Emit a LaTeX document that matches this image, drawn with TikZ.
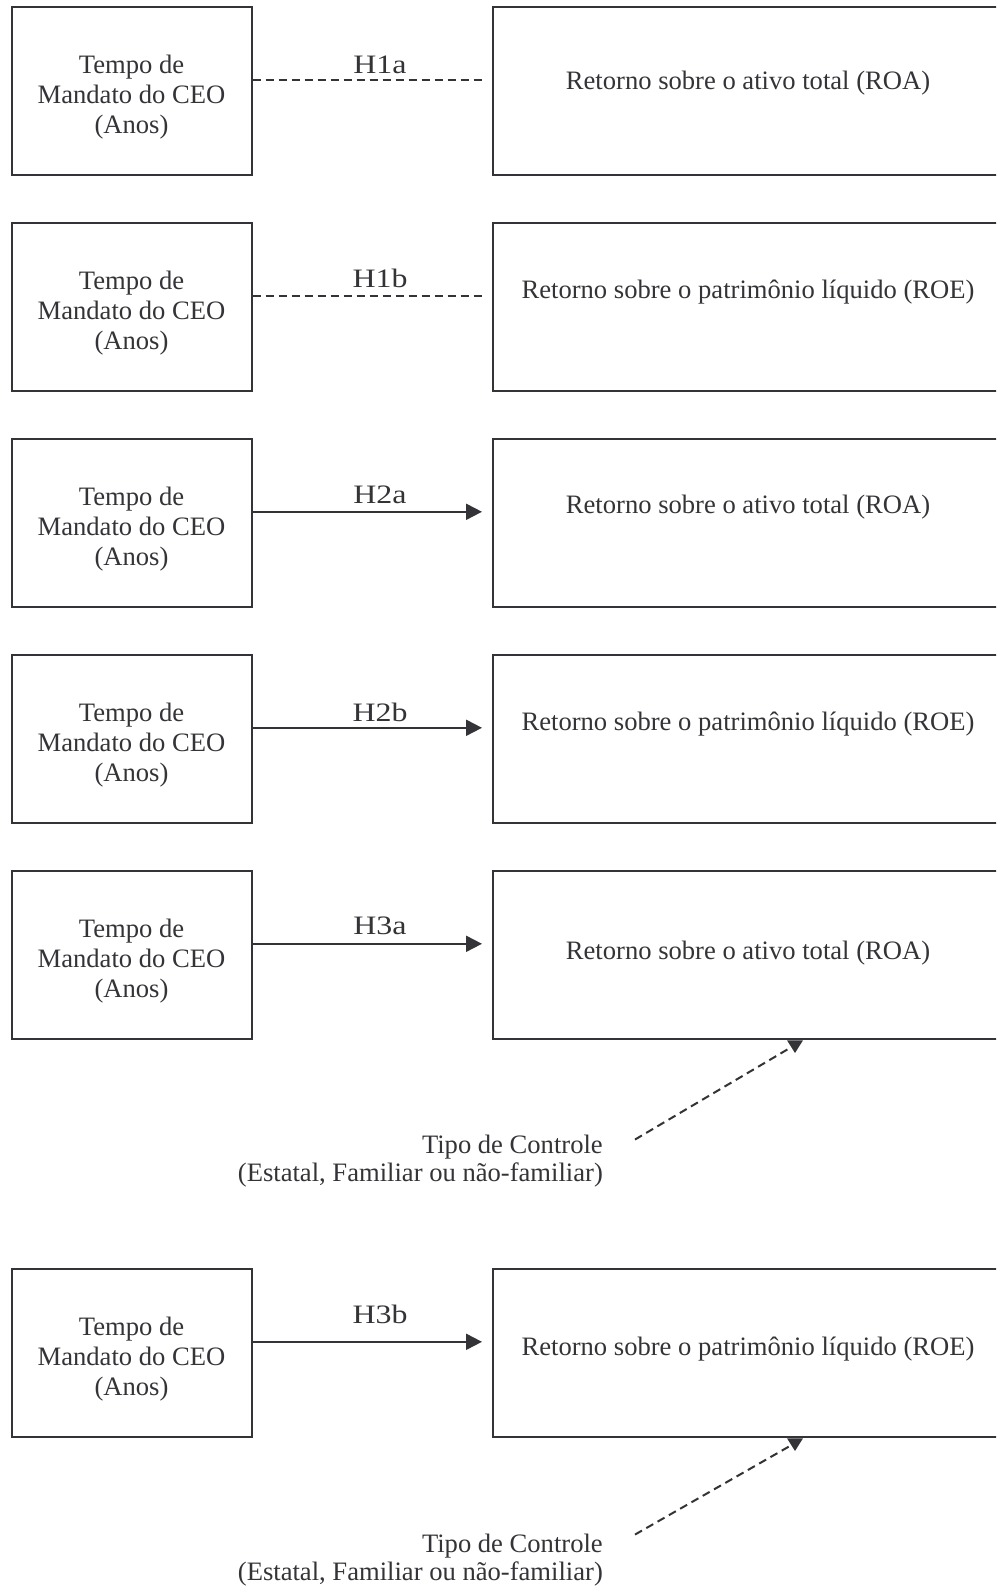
\documentclass[tikz,border=0pt]{standalone}
\usepackage{fontspec}
\setmainfont{Liberation Serif}
\usepackage{graphicx}
\usetikzlibrary{arrows.meta}
\definecolor{ink}{RGB}{52,52,56}
\tikzset{
 box/.style={draw=ink, line width=2pt, rectangle, inner sep=0pt, minimum height=168pt},
 lbox/.style={box, minimum width=240pt},
 rbox/.style={box, minimum width=511.5pt},
 txt/.style={text=ink, inner sep=0pt, font=\fontsize{26.6}{30}\selectfont, align=center},
 hlab/.style={text=ink, inner sep=0pt, font=\fontsize{26.6}{28}\selectfont},
 tipo/.style={text=ink, inner sep=0pt, font=\fontsize{26.6}{28}\selectfont, align=right, anchor=east},
 rel/.style={draw=ink, line width=2pt, shorten >=9.5pt},
 relarrow/.style={rel, -{Triangle[length=16pt,width=16pt]}},
 reldash/.style={rel, dash pattern=on 8pt off 5pt},
 moddash/.style={draw=ink, line width=2pt, dash pattern=on 8pt off 5pt},
}
\begin{document}
\begin{tikzpicture}[x=1pt,y=-1pt]
\clip (0,0) rectangle (996,1586);
\fill[white] (0,0) rectangle (996,1586);

% Row 1 (top 7.3)
\node[lbox] (l1) at (131.5,91.3) {};
\node[txt] (lt1) at (131.5,97) {Tempo de\\Mandato do CEO\\(Anos)};
\node[rbox] (r1) at (748.25,91.3) {};
\node[txt] (rt1) at (748,83.3) {Retorno sobre o ativo total (ROA)};
\draw[reldash] ([yshift=11.5pt]l1.east) -- ([yshift=11.5pt]r1.west);
\node[hlab] (h1) at (380,65) {\scalebox{1.2}[1]{H1a}};

% Row 2 (top 223.3)
\node[lbox] (l2) at (131.5,307.3) {};
\node[txt] (lt2) at (131.5,313) {Tempo de\\Mandato do CEO\\(Anos)};
\node[rbox] (r2) at (748.25,307.3) {};
\node[txt] (rt2) at (748,292.3) {Retorno sobre o patrimônio líquido (ROE)};
\draw[reldash] ([yshift=11.5pt]l2.east) -- ([yshift=11.5pt]r2.west);
\node[hlab] (h2) at (380,278) {\scalebox{1.2}[1]{H1b}};

% Row 3 (top 439.3)
\node[lbox] (l3) at (131.5,523.3) {};
\node[txt] (lt3) at (131.5,529) {Tempo de\\Mandato do CEO\\(Anos)};
\node[rbox] (r3) at (748.25,523.3) {};
\node[txt] (rt3) at (748,507) {Retorno sobre o ativo total (ROA)};
\draw[relarrow] ([yshift=11.5pt]l3.east) -- ([yshift=11.5pt]r3.west);
\node[hlab] (h3) at (380,495) {\scalebox{1.2}[1]{H2a}};

% Row 4 (top 655.3)
\node[lbox] (l4) at (131.5,739.3) {};
\node[txt] (lt4) at (131.5,745) {Tempo de\\Mandato do CEO\\(Anos)};
\node[rbox] (r4) at (748.25,739.3) {};
\node[txt] (rt4) at (748,724) {Retorno sobre o patrimônio líquido (ROE)};
\draw[relarrow] ([yshift=11.5pt]l4.east) -- ([yshift=11.5pt]r4.west);
\node[hlab] (h4) at (380,712) {\scalebox{1.2}[1]{H2b}};

% Row 5 (top 871.3)
\node[lbox] (l5) at (131.5,955.3) {};
\node[txt] (lt5) at (131.5,961) {Tempo de\\Mandato do CEO\\(Anos)};
\node[rbox] (r5) at (748.25,955.3) {};
\node[txt] (rt5) at (748,953.3) {Retorno sobre o ativo total (ROA)};
\draw[relarrow] ([yshift=11.5pt]l5.east) -- ([yshift=11.5pt]r5.west);
\node[hlab] (h5) at (380,926) {\scalebox{1.2}[1]{H3a}};
\node[tipo] (c5) at (603,1160.8) {Tipo de Controle\\(Estatal, Familiar ou não-familiar)};
\draw[moddash] ([xshift=32pt,yshift=-5pt]c5.north east) -- ([xshift=40.75pt,yshift=-8.2pt]r5.south);
\fill[ink] ([xshift=38.75pt]r5.south) -- ([xshift=54.75pt]r5.south) -- ([xshift=46.75pt,yshift=-12.7pt]r5.south) -- cycle;

% Row 6 (top 1269.3)
\node[lbox] (l6) at (131.5,1353.3) {};
\node[txt] (lt6) at (131.5,1359) {Tempo de\\Mandato do CEO\\(Anos)};
\node[rbox] (r6) at (748.25,1353.3) {};
\node[txt] (rt6) at (748,1349.3) {Retorno sobre o patrimônio líquido (ROE)};
\draw[relarrow] ([yshift=11.5pt]l6.east) -- ([yshift=11.5pt]r6.west);
\node[hlab] (h6) at (380,1314) {\scalebox{1.2}[1]{H3b}};
\node[tipo] (c6) at (603,1559.8) {Tipo de Controle\\(Estatal, Familiar ou não-familiar)};
\draw[moddash] ([xshift=32pt,yshift=-1pt]c6.north east) -- ([xshift=40.75pt,yshift=-8.2pt]r6.south);
\fill[ink] ([xshift=38.75pt]r6.south) -- ([xshift=54.75pt]r6.south) -- ([xshift=46.75pt,yshift=-12.7pt]r6.south) -- cycle;
\end{tikzpicture}
\end{document}
